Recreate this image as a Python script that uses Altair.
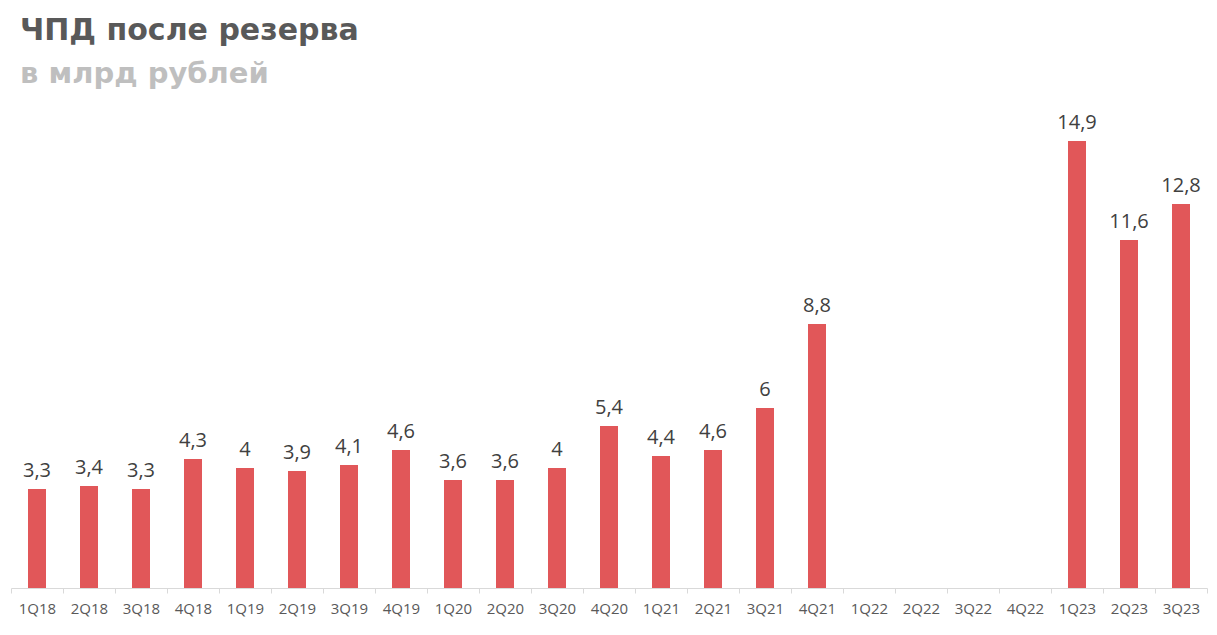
import altair as alt
import pandas as pd

quarters = ["1Q18", "2Q18", "3Q18", "4Q18", "1Q19", "2Q19", "3Q19", "4Q19",
            "1Q20", "2Q20", "3Q20", "4Q20", "1Q21", "2Q21", "3Q21", "4Q21",
            "1Q22", "2Q22", "3Q22", "4Q22", "1Q23", "2Q23", "3Q23"]
values = [3.3, 3.4, 3.3, 4.3, 4.0, 3.9, 4.1, 4.6,
          3.6, 3.6, 4.0, 5.4, 4.4, 4.6, 6.0, 8.8,
          None, None, None, None, 14.9, 11.6, 12.8]

df = pd.DataFrame({"q": quarters, "v": values})

base = alt.Chart(df).encode(
    x=alt.X("q:N", sort=quarters,
            scale=alt.Scale(domain=quarters, paddingInner=0, paddingOuter=0),
            axis=alt.Axis(title=None, labelAngle=0, tickBand="extent",
                          domainColor="#D9D9D9", tickColor="#D9D9D9", tickSize=5,
                          labelColor="#595959", labelFontSize=15, labelFont="Open Sans",
                          labelPadding=8, grid=False)),
    y=alt.Y("v:Q", scale=alt.Scale(domain=[0, 16], nice=False), axis=None),
)

bars = base.mark_bar(size=18, color="#E15759")
labels = base.transform_filter("isValid(datum.v)").transform_calculate(
    lbl="replace(toString(datum.v), '.', ',')"
).mark_text(baseline="bottom", dy=-8, fontSize=20, font="Open Sans", color="#404040").encode(
    text="lbl:N"
)

chart = (bars + labels).properties(
    width=1196, height=480,
    autosize=alt.AutoSizeParams(type="none"),
    padding={"left": 3, "top": 100, "right": 2, "bottom": 39},
    title=alt.TitleParams(
        text="ЧПД после резерва", subtitle="в млрд рублей",
        anchor="start", frame="group", dx=9, offset=19,
        font="DejaVu Sans", fontSize=30, fontWeight="bold", color="#595959",
        subtitleFont="DejaVu Sans", subtitleFontSize=29, subtitleFontWeight="bold",
        subtitleColor="#BFBFBF", subtitlePadding=14,
    ),
).configure_view(stroke=None)

chart.save("out.html", embed_options={"renderer": "svg", "actions": False})
